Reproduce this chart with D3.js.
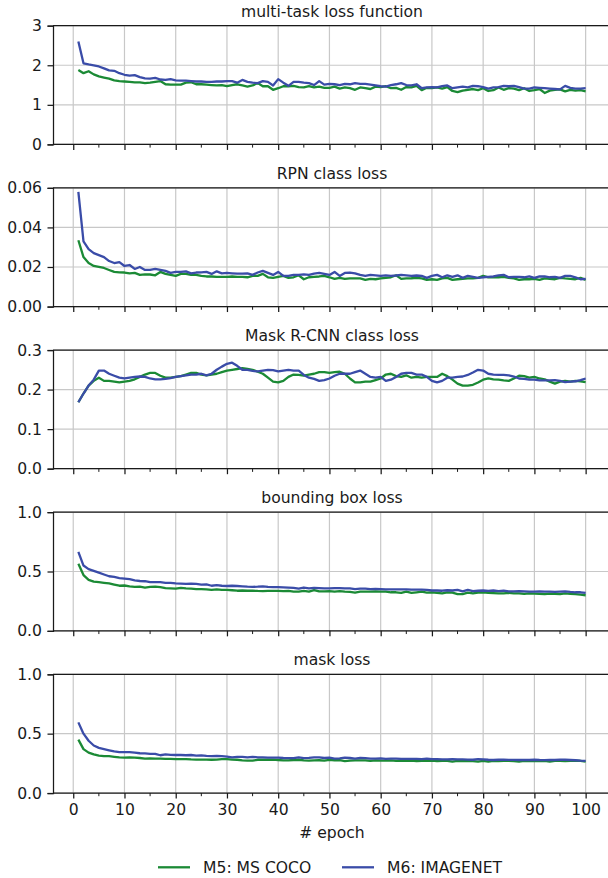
<!DOCTYPE html>
<html>
<head>
<meta charset="utf-8">
<script src="https://cdn.jsdelivr.net/npm/d3@7"></script>
<style>
  body { margin: 0; background: #fff; }
  svg text { font-family: "DejaVu Sans", sans-serif; fill: #1a1a1a; }
</style>
</head>
<body>
<div id="chart"></div>
<script>
// epochs 1..100
const epochs = d3.range(1, 101);

const titles = ["multi-task loss function", "RPN class loss", "Mask R-CNN class loss", "bounding box loss", "mask loss"];
const yMax = [3, 0.06, 0.3, 1.0, 1.0];
const yTicks = [[0, 1, 2, 3], [0, 0.02, 0.04, 0.06], [0, 0.1, 0.2, 0.3], [0, 0.5, 1.0], [0, 0.5, 1.0]];
const yFormats = ["d", ".2f", ".1f", ".1f", ".1f"];
const xTicks = [0, 10, 20, 30, 40, 50, 60, 70, 80, 90, 100];
const seriesNames = ["M5: MS COCO", "M6: IMAGENET"];

const totalCoco = [1.88,1.80,1.85,1.77,1.72,1.69,1.66,1.62,1.60,1.59,1.58,1.57,1.57,1.55,1.56,1.58,1.60,1.52,1.51,1.51,
  1.51,1.56,1.57,1.52,1.52,1.51,1.50,1.49,1.50,1.47,1.50,1.52,1.49,1.46,1.49,1.55,1.47,1.47,1.38,1.42,
  1.47,1.47,1.48,1.45,1.44,1.47,1.44,1.46,1.43,1.43,1.46,1.41,1.44,1.42,1.38,1.44,1.42,1.40,1.46,1.45,
  1.47,1.42,1.43,1.38,1.45,1.44,1.48,1.37,1.43,1.42,1.44,1.41,1.45,1.35,1.32,1.36,1.38,1.40,1.37,1.42,
  1.35,1.37,1.44,1.38,1.42,1.41,1.37,1.42,1.35,1.37,1.40,1.30,1.36,1.38,1.39,1.34,1.38,1.36,1.37,1.34];
const totalImagenet = [2.60,2.05,2.02,2.00,1.97,1.92,1.87,1.86,1.80,1.76,1.74,1.75,1.70,1.67,1.66,1.68,1.64,1.63,1.65,1.62,
  1.61,1.61,1.60,1.59,1.59,1.58,1.58,1.59,1.59,1.60,1.60,1.56,1.63,1.58,1.56,1.55,1.60,1.58,1.49,1.65,
  1.56,1.48,1.58,1.58,1.56,1.55,1.50,1.60,1.51,1.53,1.52,1.50,1.53,1.52,1.55,1.53,1.53,1.51,1.49,1.47,
  1.46,1.50,1.52,1.55,1.50,1.49,1.52,1.42,1.44,1.45,1.44,1.47,1.49,1.42,1.44,1.46,1.44,1.48,1.47,1.45,
  1.41,1.44,1.45,1.48,1.47,1.48,1.45,1.41,1.41,1.44,1.43,1.42,1.41,1.40,1.39,1.48,1.43,1.41,1.41,1.42];

const rpnCoco = [0.0335,0.0250,0.0220,0.0205,0.0200,0.0195,0.0185,0.0175,0.0173,0.0172,0.0168,0.0170,0.0160,0.0163,0.0162,0.0158,0.0175,0.0165,0.0160,0.0155,
  0.0165,0.0165,0.0160,0.0160,0.0155,0.0152,0.0152,0.0150,0.0150,0.0150,0.0152,0.0150,0.0150,0.0148,0.0155,0.0155,0.0165,0.0148,0.0145,0.0150,
  0.0155,0.0145,0.0148,0.0158,0.0138,0.0148,0.0150,0.0152,0.0155,0.0148,0.0140,0.0145,0.0140,0.0142,0.0142,0.0142,0.0135,0.0140,0.0138,0.0142,
  0.0145,0.0148,0.0158,0.0140,0.0142,0.0143,0.0145,0.0142,0.0135,0.0138,0.0135,0.0142,0.0145,0.0135,0.0138,0.0140,0.0142,0.0142,0.0145,0.0155,
  0.0148,0.0148,0.0148,0.0150,0.0145,0.0142,0.0135,0.0138,0.0138,0.0140,0.0135,0.0142,0.0140,0.0138,0.0145,0.0142,0.0140,0.0138,0.0145,0.0135];
const rpnImagenet = [0.0580,0.0330,0.0290,0.0270,0.0260,0.0250,0.0230,0.0220,0.0225,0.0205,0.0210,0.0190,0.0200,0.0185,0.0185,0.0190,0.0185,0.0180,0.0170,0.0175,
  0.0175,0.0178,0.0168,0.0172,0.0173,0.0175,0.0165,0.0178,0.0168,0.0170,0.0168,0.0166,0.0166,0.0168,0.0160,0.0172,0.0180,0.0170,0.0160,0.0175,
  0.0155,0.0155,0.0160,0.0160,0.0163,0.0160,0.0166,0.0170,0.0165,0.0160,0.0175,0.0155,0.0170,0.0172,0.0168,0.0160,0.0155,0.0160,0.0158,0.0155,
  0.0158,0.0155,0.0157,0.0160,0.0158,0.0155,0.0157,0.0155,0.0145,0.0155,0.0160,0.0148,0.0158,0.0150,0.0158,0.0145,0.0155,0.0150,0.0145,0.0148,
  0.0150,0.0152,0.0158,0.0160,0.0148,0.0150,0.0150,0.0148,0.0152,0.0145,0.0152,0.0153,0.0148,0.0150,0.0145,0.0155,0.0155,0.0148,0.0138,0.0140];

const clsCoco = [0.168,0.190,0.210,0.222,0.230,0.222,0.222,0.220,0.218,0.220,0.222,0.226,0.232,0.238,0.242,0.242,0.235,0.230,0.230,0.232,
  0.234,0.238,0.242,0.242,0.238,0.236,0.238,0.240,0.244,0.248,0.250,0.252,0.254,0.252,0.250,0.245,0.240,0.230,0.220,0.218,
  0.222,0.232,0.238,0.237,0.235,0.238,0.240,0.244,0.244,0.242,0.244,0.245,0.240,0.228,0.218,0.218,0.220,0.220,0.224,0.228,
  0.238,0.240,0.234,0.232,0.236,0.230,0.232,0.230,0.232,0.232,0.232,0.240,0.234,0.225,0.215,0.210,0.210,0.212,0.218,0.225,
  0.228,0.226,0.225,0.223,0.222,0.228,0.235,0.234,0.230,0.232,0.228,0.226,0.220,0.215,0.220,0.222,0.220,0.222,0.221,0.219];
const clsImagenet = [0.168,0.190,0.210,0.225,0.248,0.248,0.240,0.235,0.230,0.228,0.230,0.232,0.233,0.232,0.228,0.226,0.226,0.227,0.229,0.232,
  0.234,0.236,0.238,0.238,0.240,0.236,0.240,0.250,0.258,0.265,0.268,0.260,0.250,0.250,0.247,0.246,0.248,0.250,0.249,0.246,
  0.248,0.250,0.248,0.248,0.237,0.230,0.227,0.222,0.224,0.228,0.235,0.240,0.240,0.240,0.244,0.248,0.240,0.232,0.230,0.232,
  0.222,0.225,0.232,0.240,0.242,0.242,0.238,0.238,0.232,0.222,0.218,0.222,0.230,0.230,0.232,0.233,0.237,0.243,0.250,0.248,
  0.240,0.238,0.237,0.237,0.236,0.233,0.228,0.227,0.225,0.225,0.223,0.223,0.223,0.224,0.222,0.219,0.220,0.221,0.224,0.228];

const bboxCoco = [0.565,0.470,0.430,0.415,0.410,0.405,0.400,0.390,0.380,0.382,0.375,0.370,0.372,0.365,0.370,0.372,0.368,0.360,0.358,0.355,
  0.362,0.358,0.355,0.352,0.352,0.350,0.345,0.350,0.345,0.345,0.342,0.338,0.340,0.338,0.338,0.336,0.335,0.336,0.337,0.336,
  0.335,0.336,0.330,0.330,0.336,0.330,0.343,0.332,0.332,0.334,0.330,0.334,0.330,0.328,0.322,0.330,0.330,0.330,0.332,0.330,
  0.330,0.325,0.325,0.320,0.330,0.320,0.325,0.330,0.322,0.325,0.320,0.315,0.324,0.322,0.310,0.310,0.322,0.315,0.322,0.325,
  0.320,0.318,0.315,0.315,0.320,0.315,0.315,0.312,0.315,0.314,0.312,0.310,0.314,0.312,0.310,0.315,0.312,0.310,0.305,0.300];
const bboxImagenet = [0.665,0.550,0.520,0.505,0.490,0.475,0.460,0.455,0.445,0.440,0.435,0.425,0.420,0.418,0.410,0.410,0.410,0.405,0.405,0.400,
  0.398,0.395,0.398,0.395,0.390,0.392,0.380,0.385,0.380,0.378,0.380,0.378,0.375,0.372,0.370,0.372,0.375,0.370,0.368,0.368,
  0.367,0.365,0.362,0.355,0.365,0.358,0.362,0.360,0.358,0.358,0.360,0.360,0.357,0.358,0.352,0.355,0.355,0.352,0.353,0.352,
  0.350,0.350,0.350,0.350,0.350,0.348,0.348,0.347,0.345,0.340,0.340,0.338,0.342,0.340,0.345,0.332,0.345,0.335,0.338,0.340,
  0.336,0.340,0.335,0.338,0.333,0.332,0.335,0.333,0.330,0.330,0.332,0.330,0.330,0.328,0.330,0.332,0.328,0.325,0.325,0.320];

const maskCoco = [0.450,0.370,0.340,0.325,0.315,0.310,0.310,0.305,0.300,0.298,0.300,0.298,0.295,0.290,0.292,0.290,0.290,0.288,0.288,0.285,
  0.285,0.285,0.283,0.282,0.282,0.282,0.280,0.282,0.285,0.285,0.282,0.280,0.275,0.272,0.272,0.280,0.280,0.280,0.282,0.278,
  0.275,0.275,0.278,0.280,0.275,0.272,0.275,0.276,0.273,0.280,0.276,0.276,0.268,0.272,0.275,0.275,0.275,0.270,0.275,0.272,
  0.273,0.275,0.270,0.272,0.270,0.272,0.268,0.270,0.270,0.272,0.268,0.270,0.270,0.265,0.270,0.268,0.270,0.268,0.265,0.270,
  0.265,0.270,0.268,0.270,0.270,0.268,0.265,0.270,0.268,0.270,0.268,0.270,0.265,0.270,0.270,0.268,0.270,0.272,0.270,0.265];
const maskImagenet = [0.595,0.500,0.440,0.400,0.380,0.370,0.360,0.350,0.345,0.345,0.345,0.340,0.335,0.333,0.330,0.330,0.318,0.325,0.322,0.320,
  0.320,0.318,0.320,0.315,0.317,0.312,0.310,0.313,0.310,0.306,0.300,0.305,0.305,0.300,0.305,0.300,0.300,0.298,0.298,0.298,
  0.295,0.294,0.293,0.300,0.294,0.296,0.300,0.300,0.295,0.298,0.290,0.292,0.298,0.295,0.290,0.295,0.293,0.290,0.290,0.292,
  0.288,0.290,0.290,0.288,0.287,0.288,0.288,0.285,0.290,0.285,0.285,0.283,0.283,0.285,0.283,0.283,0.282,0.280,0.285,0.283,
  0.280,0.278,0.280,0.280,0.279,0.279,0.278,0.278,0.278,0.280,0.278,0.277,0.278,0.278,0.280,0.280,0.278,0.276,0.272,0.270];

const cocoSeries = [totalCoco, rpnCoco, clsCoco, bboxCoco, maskCoco];
const imagenetSeries = [totalImagenet, rpnImagenet, clsImagenet, bboxImagenet, maskImagenet];

const width = 608, height = 878;
const fs = 15.6;
const green = "#1b8a35", blue = "#3a4ca8";
const gridColor = "#c8c8c8";
const axisColor = "#1a1a1a";
const panelTop = 25.7, panelH = 118.7, panelStep = 162.15;
const left = 53;

const svg = d3.select("#chart").append("svg")
  .attr("width", width).attr("height", height);

const x = d3.scaleLinear().domain([-3.95, 104.95]).range([left, 611]);

titles.forEach(function(title, i){
  const top = panelTop + i * panelStep;
  const bottom = top + panelH;
  const y = d3.scaleLinear().domain([0, yMax[i]]).range([bottom, top]);
  const g = svg.append("g");

  // grid
  g.selectAll(".vgrid").data(xTicks).enter().append("line")
    .attr("x1", d => x(d)).attr("x2", d => x(d))
    .attr("y1", top).attr("y2", bottom)
    .attr("stroke", gridColor).attr("stroke-width", 1.2);
  g.selectAll(".hgrid").data(yTicks[i]).enter().append("line")
    .attr("x1", left).attr("x2", 611)
    .attr("y1", d => y(d)).attr("y2", d => y(d))
    .attr("stroke", gridColor).attr("stroke-width", 1.2);

  // lines
  const line = d3.line().x((d, k) => x(epochs[k])).y(d => y(d));
  g.append("path").datum(cocoSeries[i])
    .attr("d", line).attr("fill", "none")
    .attr("stroke", green).attr("stroke-width", 2.3).attr("stroke-linejoin", "round");
  g.append("path").datum(imagenetSeries[i])
    .attr("d", line).attr("fill", "none")
    .attr("stroke", blue).attr("stroke-width", 2.3).attr("stroke-linejoin", "round");

  // spines
  g.append("line").attr("x1", left).attr("x2", 611).attr("y1", top).attr("y2", top)
    .attr("stroke", axisColor).attr("stroke-width", 1.25);

  // y axis
  const yAxis = d3.axisLeft(y).tickValues(yTicks[i]).tickFormat(d3.format(yFormats[i]))
    .tickSize(5.5).tickPadding(5.5);
  const ya = g.append("g").attr("transform", `translate(${left},0)`).call(yAxis);
  ya.select(".domain").attr("stroke", axisColor).attr("stroke-width", 1.25);
  ya.selectAll(".tick line").attr("stroke", axisColor).attr("stroke-width", 1.25);
  ya.selectAll("text").attr("font-size", fs).attr("font-family", "DejaVu Sans").attr("fill", "#1a1a1a");

  // x axis
  const xAxis = d3.axisBottom(x).tickValues(xTicks).tickSize(5.5).tickPadding(5.5)
    .tickFormat(i === titles.length - 1 ? d3.format("d") : "");
  const xa = g.append("g").attr("transform", `translate(0,${bottom})`).call(xAxis);
  xa.select(".domain").attr("d", `M${left},0H611`).attr("stroke", axisColor).attr("stroke-width", 1.25);
  xa.selectAll(".tick line").attr("stroke", axisColor).attr("stroke-width", 1.25);
  xa.selectAll("text").attr("font-size", fs).attr("font-family", "DejaVu Sans").attr("fill", "#1a1a1a");

  const minor = d3.range(5, 100, 10);
  g.selectAll(".minor").data(minor).enter().append("line")
    .attr("x1", d => x(d)).attr("x2", d => x(d))
    .attr("y1", bottom).attr("y2", bottom + 3.2)
    .attr("stroke", axisColor).attr("stroke-width", 1);

  g.append("text").attr("x", (left + 611) / 2).attr("y", top - 9)
    .attr("text-anchor", "middle").attr("font-size", fs).text(title);
});

svg.append("text").attr("x", (left + 611) / 2).attr("y", 838)
  .attr("text-anchor", "middle").attr("font-size", fs).text("# epoch");

// legend
const legend = svg.append("g");
const legendX = [158, 342];
[green, blue].forEach(function(c, k){
  legend.append("line").attr("x1", legendX[k]).attr("x2", legendX[k] + 32)
    .attr("y1", 867.3).attr("y2", 867.3).attr("stroke", c).attr("stroke-width", 2.3);
  legend.append("text").attr("x", legendX[k] + 45).attr("y", 872.8)
    .attr("font-size", fs).text(seriesNames[k]);
});
</script>
</body>
</html>
